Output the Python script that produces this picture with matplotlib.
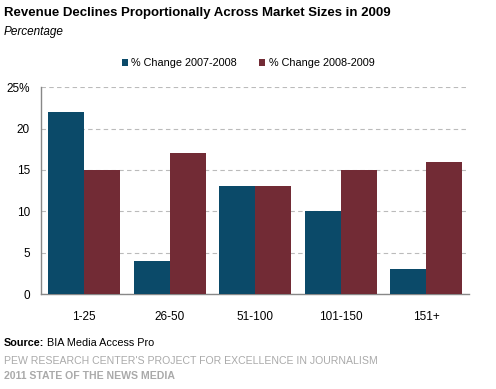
import numpy as np
import matplotlib.pyplot as plt

plt.rcParams['font.family'] = ['Liberation Sans', 'DejaVu Sans']

categories = ["1-25", "26-50", "51-100", "101-150", "151+"]
change_0708 = [22, 4, 13, 10, 3]
change_0809 = [15, 17, 13, 15, 16]
series_names = ["% Change 2007-2008", "% Change 2008-2009"]
yticks = [0, 5, 10, 15, 20, 25]
ytick_labels = ["0", "5", "10", "15", "20", "25%"]

blue = "#0b4a69"
maroon = "#722b35"

fig = plt.figure(figsize=(4.96, 3.89), dpi=100)
ax = fig.add_axes([0.083, 0.244, 0.863, 0.532])

x = np.arange(len(categories))
w = 0.42
ax.bar(x - w / 2, change_0708, w, color=blue, label=series_names[0], zorder=3)
ax.bar(x + w / 2, change_0809, w, color=maroon, label=series_names[1], zorder=3)

ax.set_xlim(-0.5, len(categories) - 0.5)
ax.set_ylim(0, 25)
ax.set_yticks(yticks)
ax.set_yticklabels(ytick_labels, fontsize=8.5)
ax.set_xticks(x)
ax.set_xticklabels(categories, fontsize=8.5)
ax.tick_params(length=0, pad=8)
ax.tick_params(axis='x', pad=12)
ax.yaxis.grid(True, linestyle=(0, (4, 3)), color="#bbbbbb", linewidth=0.8, zorder=0)
for s in ["top", "right"]:
    ax.spines[s].set_visible(False)
for s in ["left", "bottom"]:
    ax.spines[s].set_color("#888888")
    ax.spines[s].set_linewidth(1)

fig.legend(loc="center", bbox_to_anchor=(0.5, 0.838), ncol=2, frameon=False,
           fontsize=7.8, handlelength=0.6, handleheight=0.6, handletextpad=0.3,
           columnspacing=2.0)

fig.text(0.008, 0.966, "Revenue Declines Proportionally Across Market Sizes in 2009",
         fontsize=9.5, fontweight="bold", va="center")
fig.text(0.008, 0.918, "Percentage", fontsize=8.5, style="italic", va="center")

src = fig.text(0.008, 0.118, "Source:", fontsize=7.8, fontweight="bold", va="center")
fig.text(0.094, 0.118, "BIA Media Access Pro", fontsize=7.8, va="center")
fig.text(0.008, 0.072, "PEW RESEARCH CENTER'S PROJECT FOR EXCELLENCE IN JOURNALISM",
         fontsize=7.6, color="#aaaaaa", va="center")
fig.text(0.008, 0.033, "2011 STATE OF THE NEWS MEDIA", fontsize=7.6,
         color="#aaaaaa", fontweight="bold", va="center")

fig.savefig("out.png", dpi=100)
